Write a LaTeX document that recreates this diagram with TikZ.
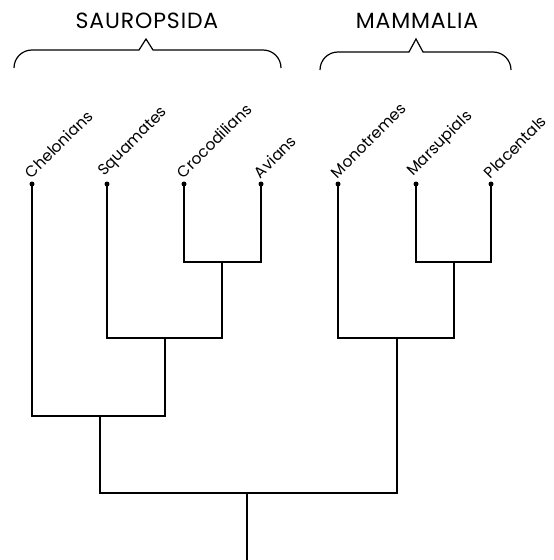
\documentclass[tikz,border=0pt]{standalone}
\usepackage{fontspec}
\setmainfont{Poppins}

\begin{document}
\begin{tikzpicture}[x=1pt,y=-1pt,
    branch/.style={line width=1.4pt},
    bracket/.style={line width=1.2pt,line join=miter},
    tipdot/.style={circle,fill,inner sep=0pt,minimum size=5pt},
    taxon/.style={rotate=45,anchor=south west,inner sep=1pt,font=\fontsize{15.5}{15.5}\selectfont},
    clade/.style={font=\fontsize{22}{22}\selectfont\addfontfeatures{LetterSpace=4}}]

    \useasboundingbox (0,0) rectangle (554,560);

    % Tips of the tree with their names
    \foreach \name/\x/\lab in {
    chel/32/Chelonians,
    squa/107/Squamates,
    croc/184/Crocodilians,
    avia/261/Avians,
    mono/338/Monotremes,
    mars/416/Marsupials,
    plac/491/Placentals} {
        \node [tipdot] (\name) at (\x,184) {};
        \node [taxon] (\name-lab) at (\x,181) {\lab};
    }

    % Branching points
    \coordinate (ca) at (222,262);
    \coordinate (sca) at (165,338);
    \coordinate (saur) at (100,416);
    \coordinate (mp) at (454,262);
    \coordinate (mamm) at (397,338);
    \coordinate (amni) at (247,493);
    \coordinate (base) at (247,560);

    \draw [branch] (croc.center) |- (ca) -| (avia.center);
    \draw [branch] (squa.center) |- (sca) -| (ca);
    \draw [branch] (chel.center) |- (saur) -| (sca);
    \draw [branch] (mars.center) |- (mp) -| (plac.center);
    \draw [branch] (mono.center) |- (mamm) -| (mp);
    \draw [branch] (saur) |- (amni) -| (mamm);
    \draw [branch] (amni) -- (base);

    % Braces and group names
    \foreach \l/\r/\p/\t/\b/\n/\lab in {
    14/281/146/50/68/saurbr/SAUROPSIDA,
    320/511/416/52/70/mammbr/MAMMALIA} {
        \draw [bracket] (\l,\b) .. controls (\l,\t+8) and (\l+8,\t) .. (\l+18,\t)
            -- (\p-7,\t) -- (\p,39) -- (\p+7,\t) -- (\r-18,\t)
            .. controls (\r-8,\t) and (\r,\t+8) .. (\r,\b);
        \node [clade] (\n) at (\p+1,21) {\lab};
    }

\end{tikzpicture}
\end{document}
